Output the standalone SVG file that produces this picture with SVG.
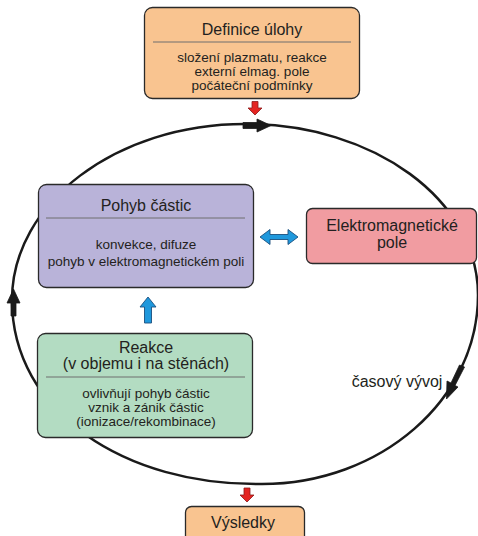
<svg xmlns="http://www.w3.org/2000/svg" width="478" height="536" viewBox="0 0 478 536">
<style>
text{font-family:"Liberation Sans",Arial,sans-serif;fill:#231f20;text-anchor:middle}
.t{font-size:16px}
.b{font-size:13.5px}
.box{stroke:#2a2a2a;stroke-width:1.3}
.sep{stroke:#6e6e6e;stroke-width:1}
.cyc{fill:none;stroke:#1a1a1a;stroke-width:2.5}
.blk{fill:#1a1a1a;stroke:#1a1a1a;stroke-width:0.8;stroke-linejoin:round}
.red{fill:#e42421;stroke:#8a1c1c;stroke-width:0.8}
.blue{fill:#1f98dc;stroke:#1b4f7e;stroke-width:0.9}
</style>
<rect width="478" height="536" fill="#ffffff"/>
<g id="connectors">
<path class="cyc" d="M245,124 C374,124 478,200 478,295 C478,400 380,484 262,484 C125,486 12,412 12,300 C12,203 116,124 245,124 Z"/>
<polygon class="blk" points="243,122.5 257,122.5 257,119 271,125.5 257,132 257,128.5 243,128.5"/>
<polygon class="blk" points="11,316 11,303 7,303 13.5,289 20,303 16,303 16,316"/>
<polygon class="blk" points="464.5,367 459.5,365 451,383 447,381 446.5,399 458,387 455,385.5"/>
<polygon class="red" points="252,101.5 258,101.5 258,108 262,108 255,115 248,108 252,108"/>
<polygon class="red" points="244,488 250,488 250,495 254,495 247,502 240,495 244,495"/>
<polygon class="blue" points="260,237 270,229.5 270,234.5 288,234.5 288,229.5 298,237 288,244.5 288,239.5 270,239.5 270,244.5"/>
<polygon class="blue" points="148,297 156,307 151.5,307 151.5,323 144.5,323 144.5,307 140,307"/>
</g>
<g id="node-definice">
<rect class="box" x="144.5" y="7.5" width="215" height="91" rx="8" fill="#f9c490"/>
<text class="t" x="252" y="35">Definice úlohy</text>
<line class="sep" x1="153" y1="42" x2="351" y2="42"/>
<text class="b" x="252" y="62">složení plazmatu, reakce</text>
<text class="b" x="252" y="76">externí elmag. pole</text>
<text class="b" x="252" y="90">počáteční podmínky</text>
</g>
<g id="node-pohyb">
<rect class="box" x="38.5" y="184.5" width="215" height="103" rx="8" fill="#b9b3d9"/>
<text class="t" x="146" y="211">Pohyb částic</text>
<line class="sep" x1="46" y1="218" x2="245" y2="218"/>
<text class="b" x="146" y="249">konvekce, difuze</text>
<text class="b" x="146" y="266">pohyb v elektromagnetickém poli</text>
</g>
<g id="node-pole">
<rect class="box" x="306.5" y="208.5" width="170" height="55" rx="6" fill="#f19ca1"/>
<text class="t" x="392" y="231">Elektromagnetické</text>
<text class="t" x="392" y="248">pole</text>
</g>
<g id="node-reakce">
<rect class="box" x="37.5" y="333.5" width="215" height="104" rx="8" fill="#b3dcc2"/>
<text class="t" x="146" y="353">Reakce</text>
<text class="t" x="146" y="369">(v objemu i na stěnách)</text>
<line class="sep" x1="46" y1="377" x2="245" y2="377"/>
<text class="b" x="146" y="398">ovlivňují pohyb částic</text>
<text class="b" x="146" y="412">vznik a zánik částic</text>
<text class="b" x="146" y="426">(ionizace/rekombinace)</text>
</g>
<g id="node-vysledky">
<rect class="box" x="185.5" y="506.5" width="119" height="40" rx="6" fill="#f9c490"/>
<text class="t" x="243" y="528">Výsledky</text>
</g>
<g id="label-cas">
<text class="t" x="397" y="387">časový vývoj</text>
</g>
</svg>
